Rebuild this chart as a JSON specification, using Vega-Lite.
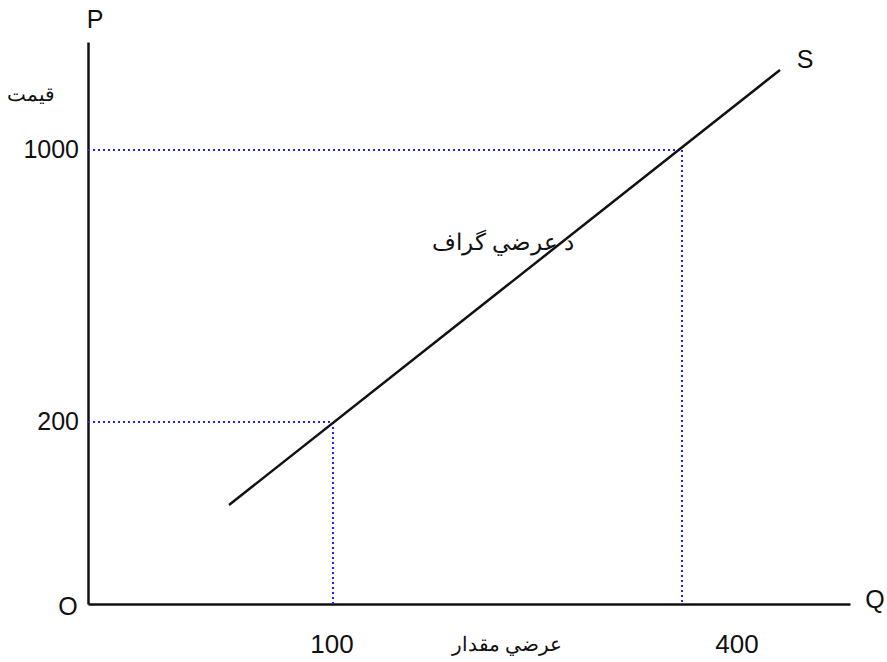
{
  "$schema": "https://vega.github.io/schema/vega-lite/v6.json",
  "width": 762,
  "height": 562,
  "autosize": {"type": "none"},
  "padding": {"left": 88, "top": 42, "right": 37, "bottom": 58},
  "background": "white",
  "config": {"view": {"stroke": null}},
  "datasets": {
    "segments": [
      {"kind": "supply", "x": 141, "y": 99, "x2": 692, "y2": 534},
      {"kind": "guide", "x": 0, "y": 454, "x2": 594, "y2": 454},
      {"kind": "guide", "x": 594, "y": 454, "x2": 594, "y2": 0},
      {"kind": "guide", "x": 0, "y": 182, "x2": 245, "y2": 182},
      {"kind": "guide", "x": 245, "y": 182, "x2": 245, "y2": 0}
    ],
    "labels": [
      {"text": "P", "x": 7, "y": 584, "size": 25, "anchor": "center"},
      {"text": "S", "x": 717, "y": 544, "size": 25, "anchor": "center"},
      {"text": "O", "x": -20, "y": -3, "size": 25, "anchor": "center"},
      {"text": "Q", "x": 787, "y": 4, "size": 25, "anchor": "center"},
      {"text": "1000", "x": -9, "y": 454, "size": 25, "anchor": "right"},
      {"text": "200", "x": -9, "y": 182, "size": 25, "anchor": "right"},
      {"text": "100", "x": 244, "y": -41, "size": 26, "anchor": "center"},
      {"text": "400", "x": 649, "y": -41, "size": 26, "anchor": "center"},
      {"text": "قيمت", "x": -57, "y": 509, "size": 20, "anchor": "center"},
      {"text": "د عرضي گراف", "x": 415, "y": 361, "size": 23, "anchor": "center"},
      {"text": "عرضي مقدار", "x": 419, "y": -41, "size": 20, "anchor": "center"}
    ]
  },
  "layer": [
    {
      "data": {"name": "segments"},
      "transform": [{"filter": "datum.kind == 'guide'"}],
      "mark": {"type": "rule", "color": "#2020ff", "strokeWidth": 2, "strokeDash": [2, 3]},
      "encoding": {
        "x": {"field": "x", "type": "quantitative", "scale": {"domain": [0, 762], "nice": false, "zero": false},
              "axis": {"domain": true, "domainColor": "#111", "domainWidth": 2.5, "ticks": false, "labels": false, "grid": false, "title": null}},
        "y": {"field": "y", "type": "quantitative", "scale": {"domain": [0, 562], "nice": false, "zero": false},
              "axis": {"domain": true, "domainColor": "#111", "domainWidth": 2.5, "ticks": false, "labels": false, "grid": false, "title": null}},
        "x2": {"field": "x2"},
        "y2": {"field": "y2"}
      }
    },
    {
      "data": {"name": "segments"},
      "transform": [{"filter": "datum.kind == 'supply'"}],
      "mark": {"type": "rule", "color": "#111", "strokeWidth": 2.5},
      "encoding": {
        "x": {"field": "x", "type": "quantitative"},
        "y": {"field": "y", "type": "quantitative"},
        "x2": {"field": "x2"},
        "y2": {"field": "y2"}
      }
    },
    {
      "data": {"name": "labels"},
      "transform": [{"filter": "datum.anchor == 'center'"}],
      "mark": {"type": "text", "font": "Liberation Sans", "color": "#111", "baseline": "middle", "align": "center"},
      "encoding": {
        "x": {"field": "x", "type": "quantitative"},
        "y": {"field": "y", "type": "quantitative"},
        "text": {"field": "text"},
        "size": {"field": "size", "type": "quantitative", "scale": null}
      }
    },
    {
      "data": {"name": "labels"},
      "transform": [{"filter": "datum.anchor == 'right'"}],
      "mark": {"type": "text", "font": "Liberation Sans", "color": "#111", "baseline": "middle", "align": "right"},
      "encoding": {
        "x": {"field": "x", "type": "quantitative"},
        "y": {"field": "y", "type": "quantitative"},
        "text": {"field": "text"},
        "size": {"field": "size", "type": "quantitative", "scale": null}
      }
    }
  ]
}
